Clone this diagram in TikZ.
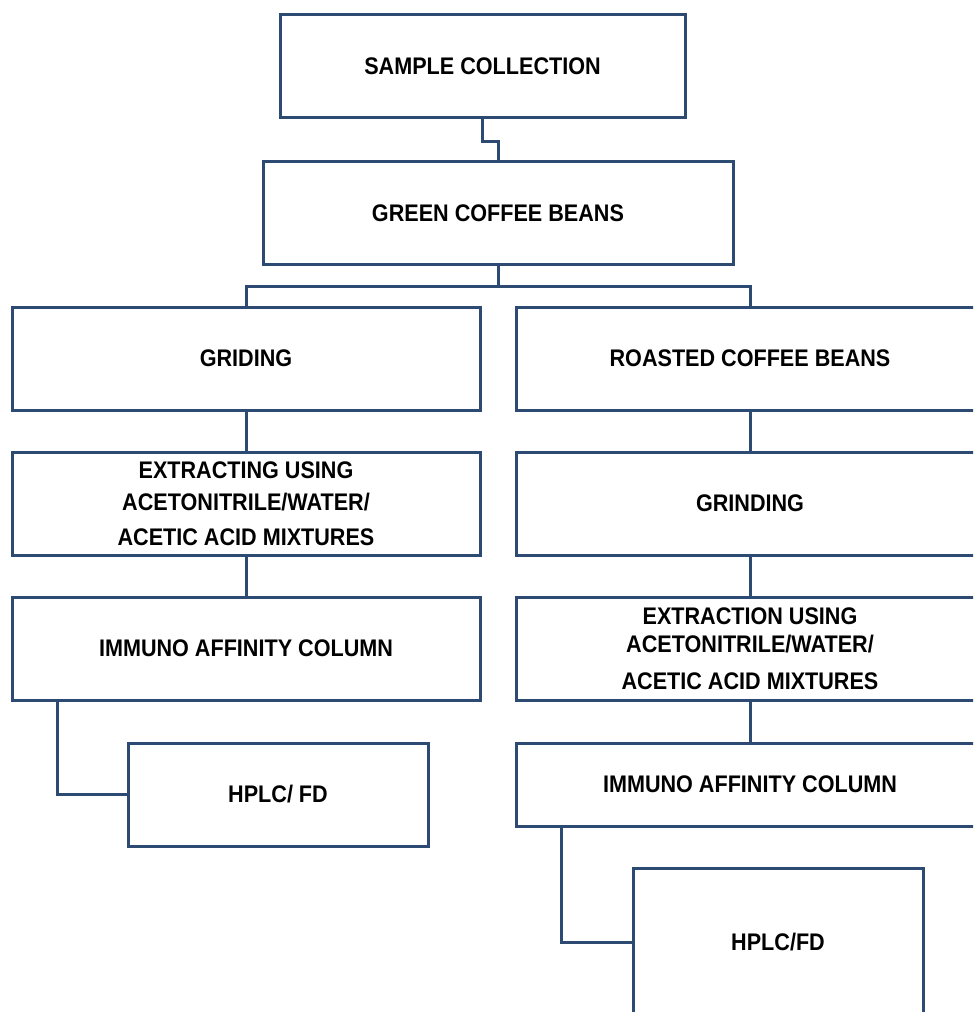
\documentclass[tikz,border=0pt]{standalone}
\usepackage{fontspec}
\setmainfont{Liberation Sans}[FakeStretch=0.9]
\usetikzlibrary{calc}
\definecolor{boxblue}{RGB}{44,74,114}
\begin{document}
\begin{tikzpicture}[x=0.75pt,y=-0.75pt,
  stage/.style={draw=boxblue,line width=2.25pt,fill=white,inner sep=0pt,
    minimum width=#1,align=center,
    font=\fontsize{18}{24}\selectfont\bfseries},
  stage/.default={351pt},
  link/.style={draw=boxblue,line width=2.25pt,line join=miter}]
\clip (0,0) rectangle (973,1012);
\fill[white] (0,0) rectangle (973,1012);
% nodes
\node[stage=303.75pt,minimum height=77.25pt] (sc) at (482.5,66.5) {SAMPLE COLLECTION};
\node[stage=352.5pt,minimum height=77.25pt] (gcb) at (498,213.5) {GREEN COFFEE BEANS};
% left column
\node[stage,minimum height=77.25pt] (grid) at (246,358.5) {GRIDING};
\node[stage,minimum height=77.25pt] (ext1) at (246,503.5) {EXTRACTING USING\\ACETONITRILE/WATER/\\[2.25pt]ACETIC ACID MIXTURES};
\node[stage,minimum height=77.25pt] (iac1) at (246,648.5) {IMMUNO AFFINITY COLUMN};
\node[stage=225pt,minimum height=77.25pt] (hplc1) at (278,794.5) {HPLC/ FD};
% right column
\node[stage,minimum height=77.25pt] (roast) at (750,358.5) {ROASTED COFFEE BEANS};
\node[stage,minimum height=77.25pt] (grind) at (750,503.5) {GRINDING};
\node[stage,minimum height=77.25pt] (ext2) at (750,648.5) {EXTRACTION USING\\[-3pt]ACETONITRILE/WATER/\\[3.75pt]ACETIC ACID MIXTURES};
\node[stage,minimum height=62.25pt] (iac2) at (750,784.5) {IMMUNO AFFINITY COLUMN};
\node[stage=217.5pt,minimum height=111pt] (hplc2) at (778,942) {HPLC/FD};
% connectors
\draw[link] (sc.south) -- ++(0,22) -| (gcb.north);
\draw[link] (gcb.south) -- ++(0,20) coordinate (split);
\draw[link] (grid.north) |- (split) -| (roast.north);
\draw[link] (grid.south) -- (ext1.north);
\draw[link] (ext1.south) -- (iac1.north);
\draw[link] ($(iac1.south west)+(47,0)$) |- (hplc1.west);
\draw[link] (roast.south) -- (grind.north);
\draw[link] (grind.south) -- (ext2.north);
\draw[link] (ext2.south) -- (iac2.north);
\draw[link] ($(iac2.south west)+(47,0)$) |- (hplc2.west);
\end{tikzpicture}
\end{document}
